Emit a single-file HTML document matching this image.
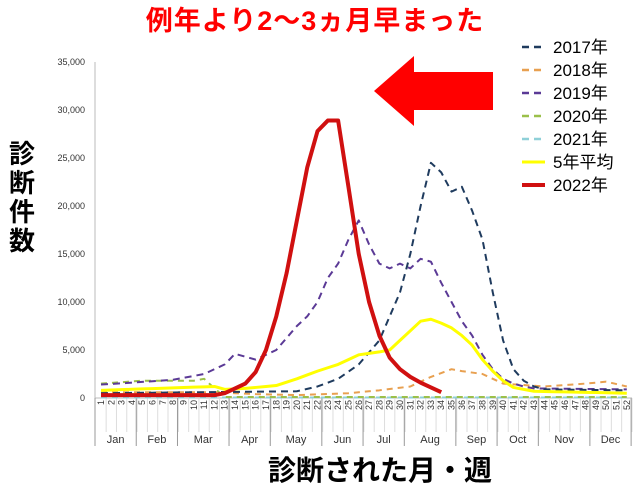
<!DOCTYPE html>
<html><head><meta charset="utf-8"><style>
body{margin:0;background:#fff;width:640px;height:493px;overflow:hidden;font-family:"Liberation Sans","Noto Sans CJK JP",sans-serif}
svg{display:block}
</style></head><body>
<svg id="s" width="640" height="493" xmlns="http://www.w3.org/2000/svg" font-family="Liberation Sans, Noto Sans CJK JP, sans-serif">
<text x="315" y="30" font-size="27" fill="#f00" text-anchor="middle" font-weight="bold" letter-spacing="1">例年より2〜3ヵ月早まった</text>
<polygon points="374,91 414,56 414,72 493,72 493,110 414,110 414,126" fill="#f00"/>
<g font-size="9" fill="#333" text-anchor="end">
<text x="85" y="65">35,000</text><text x="85" y="113">30,000</text><text x="85" y="161">25,000</text><text x="85" y="209">20,000</text><text x="85" y="257">15,000</text><text x="85" y="305">10,000</text><text x="85" y="353">5,000</text><text x="85" y="401">0</text>
</g>
<line x1="95" y1="62" x2="95" y2="398" stroke="#bbb"/>
<line x1="95" y1="398" x2="632" y2="398" stroke="#bbb"/>
<g id="ax"></g>
<g id="lines"></g>
<g font-size="26" font-weight="bold" text-anchor="middle" fill="#000">
<text x="22" y="163">診</text><text x="22" y="192">断</text><text x="22" y="221">件</text><text x="22" y="250">数</text>
</g>
<text x="380" y="480" font-size="28" font-weight="bold" text-anchor="middle">診断された月・週</text>
<g font-size="17" fill="#000">
<line x1="522" y1="47" x2="545" y2="47" stroke="#1f3b5e" stroke-width="2.5" stroke-dasharray="7,5"/><text x="553" y="53">2017年</text>
<line x1="522" y1="70" x2="545" y2="70" stroke="#e8a050" stroke-width="2.5" stroke-dasharray="7,5"/><text x="553" y="76">2018年</text>
<line x1="522" y1="93" x2="545" y2="93" stroke="#5b3a96" stroke-width="2.5" stroke-dasharray="7,5"/><text x="553" y="99">2019年</text>
<line x1="522" y1="116" x2="545" y2="116" stroke="#9bc04a" stroke-width="2.5" stroke-dasharray="7,5"/><text x="553" y="122">2020年</text>
<line x1="522" y1="139" x2="545" y2="139" stroke="#8fd0d8" stroke-width="2.5" stroke-dasharray="7,5"/><text x="553" y="145">2021年</text>
<line x1="522" y1="162" x2="545" y2="162" stroke="#ffff00" stroke-width="3"/><text x="553" y="168">5年平均</text>
<line x1="522" y1="185" x2="545" y2="185" stroke="#d01010" stroke-width="4"/><text x="553" y="191">2022年</text>
</g>
</svg>
<script>
const X=w=>101+(w-1)*10.31, Y=v=>398-v*48/5000, NS="http://www.w3.org/2000/svg";
const ax=document.getElementById('ax'), ln=document.getElementById('lines');
function el(p,t,a,txt){const e=document.createElementNS(NS,t);for(const k in a)e.setAttribute(k,a[k]);if(txt)e.textContent=txt;p.appendChild(e);return e;}
for(let w=1;w<=52;w++){const x=X(w);el(ax,'line',{x1:x+5.15,y1:398,x2:x+5.15,y2:432,stroke:'#ddd'});
 el(ax,'text',{x:x+3,y:400,'font-size':9,fill:'#333',transform:`rotate(-90 ${x+3} 400)`,'text-anchor':'end'},String(w));}
const b=[0,4,8,13,17,22,26,30,35,39,43,48,52],m=["Jan","Feb","Mar","Apr","May","Jun","Jul","Aug","Sep","Oct","Nov","Dec"];
b.forEach((w,i)=>{const x=95+w*10.31;el(ax,'line',{x1:x,y1:398,x2:x,y2:446,stroke:'#999'});
 if(i<12){const x2=95+b[i+1]*10.31;el(ax,'text',{x:(x+x2)/2,y:443,'font-size':11,fill:'#333','text-anchor':'middle'},m[i]);}});
function ser(pts,c,sw,da){const full=[];for(let i=0;i<pts.length-1;i++){const[a,va]=pts[i],[bb,vb]=pts[i+1];for(let w=a;w<bb;w++)full.push([w,va+(vb-va)*(w-a)/(bb-a)]);}full.push(pts[pts.length-1]);
 el(ln,'polyline',{points:full.map(p=>X(p[0])+','+Y(p[1])).join(' '),fill:'none',stroke:c,'stroke-width':sw,'stroke-dasharray':da||'','stroke-linejoin':'round'});}
ser([[1,50],[52,50]],'#8fd0d8',2,'6,5');
ser([[1,1500],[5,1800],[10,1800],[11,2000],[12,1000],[13,100],[52,100]],'#9bc04a',2,'6,5');
ser([[1,600],[12,600],[16,400],[20,300],[25,500],[28,800],[31,1200],[33,2200],[35,3000],[36,2800],[38,2500],[40,1500],[44,1200],[48,1500],[50,1700],[52,1200]],'#e8a050',2,'6,5');
ser([[1,1400],[4,1600],[8,1900],[11,2500],[13,3500],[14,4600],[16,4000],[18,5000],[20,7500],[21,8500],[22,10000],[23,12500],[24,14000],[25,16500],[26,18500],[27,16000],[28,14000],[29,13500],[30,14000],[31,13500],[32,14500],[33,14200],[34,12000],[35,10000],[36,8000],[37,6500],[38,4500],[39,3000],[40,2000],[41,1500],[42,1200],[43,1000],[52,900]],'#5b3a96',2,'7,5');
ser([[1,500],[20,700],[22,1200],[24,2000],[26,3500],[28,6000],[30,11000],[31,15000],[32,20000],[33,24500],[34,23500],[35,21500],[36,22000],[37,19500],[38,16500],[39,11000],[40,6000],[41,3000],[42,1800],[43,1200],[44,900],[52,800]],'#1f3b5e',2,'7,5');
ser([[1,800],[12,1200],[13,900],[15,1000],[18,1300],[20,2000],[22,2800],[24,3500],[26,4500],[28,4800],[29,5000],[30,6000],[31,7000],[32,8000],[33,8200],[34,7800],[35,7300],[36,6500],[37,5500],[38,4000],[39,2800],[40,1800],[41,1100],[43,700],[52,500]],'#ffff00',3);
ser([[1,300],[12,300],[13,500],[14,1000],[15,1500],[16,2700],[17,5000],[18,8500],[19,13000],[20,18500],[21,24000],[22,27800],[23,28900],[24,28900],[25,22000],[26,15000],[27,10000],[28,6500],[29,4200],[30,3000],[31,2200],[32,1600],[33,1100],[34,600]],'#d01010',4);
</script>
</body></html>
